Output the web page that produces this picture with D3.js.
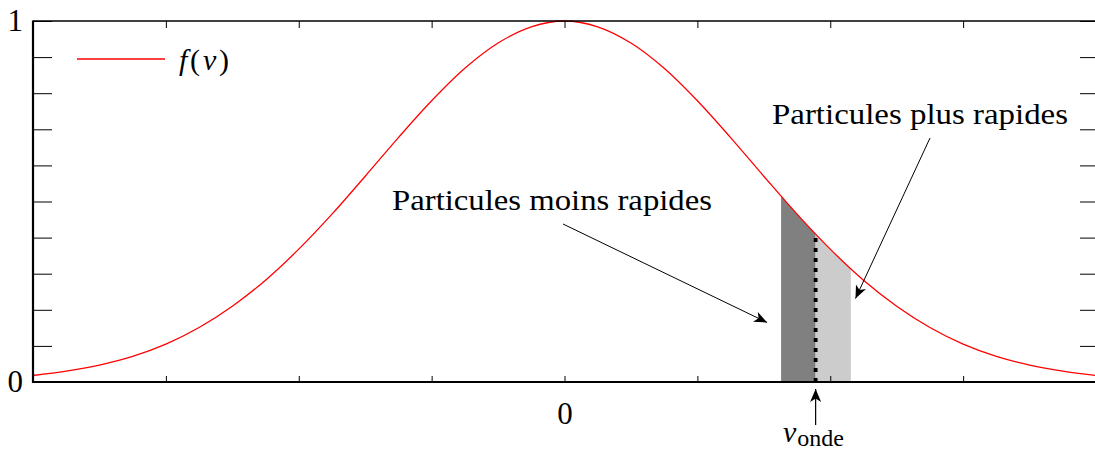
<!DOCTYPE html>
<html>
<head>
<meta charset="utf-8">
<script src="https://cdn.jsdelivr.net/npm/d3@7"></script>
<style>
  body { margin: 0; background: #fff; }
  svg { display: block; font-family: 'Liberation Serif', 'DejaVu Serif', serif; }
</style>
</head>
<body>
<svg id="chart" width="1095" height="450"></svg>
<script>
// f(v), every 0.25
const vValues = [-4, -3.75, -3.5, -3.25, -3, -2.75, -2.5, -2.25, -2, -1.75, -1.5, -1.25, -1, -0.75, -0.5, -0.25,
  0, 0.25, 0.5, 0.75, 1, 1.25, 1.5, 1.75, 2, 2.25, 2.5, 2.75, 3, 3.25, 3.5, 3.75, 4];
const fValues = [0.018, 0.030, 0.047, 0.071, 0.105, 0.151, 0.210, 0.282, 0.368, 0.465, 0.570, 0.677, 0.779, 0.869, 0.939, 0.984,
  1, 0.984, 0.939, 0.869, 0.779, 0.677, 0.570, 0.465, 0.368, 0.282, 0.210, 0.151, 0.105, 0.071, 0.047, 0.030, 0.018];

const xTicks = [-3, -2, -1, 0, 1, 2, 3];
const xTickLabels = ['', '', '', '0', '', '', ''];
const yTicks = [0, 0.1, 0.2, 0.3, 0.4, 0.5, 0.6, 0.7, 0.8, 0.9, 1];
const yTickLabels = ['0', '', '', '', '', '', '', '', '', '', '1'];

// shaded bands and wave speed
const slowBand = [1.63, 1.89];
const fastBand = [1.89, 2.155];
const vOnde = 1.89;

const data = vValues.map((v, i) => ({ v: v, f: fValues[i] }));

const margin = { top: 21, right: -1, bottom: 68, left: 33 };
const W = 1095, H = 450;

const svg = d3.select('#chart');

const x = d3.scaleLinear().domain([-4, 4]).range([margin.left, W - margin.right]);
const y = d3.scaleLinear().domain([0, 1]).range([H - margin.bottom, margin.top]);

// arrow head (latex style)
const defs = svg.append('defs');
defs.append('marker')
  .attr('id', 'arrow')
  .attr('viewBox', '-14 -7 16 14')
  .attr('refX', 0).attr('refY', 0)
  .attr('markerWidth', 16).attr('markerHeight', 14)
  .attr('markerUnits', 'userSpaceOnUse')
  .attr('orient', 'auto')
  .append('path')
  .attr('d', 'M0,0 L-13,-5.5 L-9.5,0 L-13,5.5 Z')
  .attr('fill', '#000');

const area = d3.area()
  .x((d) => x(d.v))
  .y0(y(0))
  .y1((d) => y(d.f))
  .curve(d3.curveCatmullRom);

const line = d3.line()
  .x((d) => x(d.v))
  .y((d) => y(d.f))
  .curve(d3.curveCatmullRom);

// clip each band to the area under the curve
defs.append('clipPath').attr('id', 'underCurve')
  .append('path').attr('d', area(data));

const bands = svg.append('g').attr('clip-path', 'url(#underCurve)');
bands.append('rect')
  .attr('x', x(slowBand[0]))
  .attr('y', y(1))
  .attr('width', x(slowBand[1]) - x(slowBand[0]))
  .attr('height', y(0) - y(1))
  .attr('fill', '#808080');
bands.append('rect')
  .attr('x', x(fastBand[0]))
  .attr('y', y(1))
  .attr('width', x(fastBand[1]) - x(fastBand[0]))
  .attr('height', y(0) - y(1))
  .attr('fill', '#cccccc');
bands.append('line')
  .attr('x1', x(vOnde)).attr('x2', x(vOnde))
  .attr('y1', y(0)).attr('y2', y(1))
  .attr('stroke', '#000')
  .attr('stroke-width', 3.8)
  .attr('stroke-dasharray', '4,6');

// curve
svg.append('path')
  .attr('d', line(data))
  .attr('fill', 'none')
  .attr('stroke', '#ff0000')
  .attr('stroke-width', 1.3);

// axes
const styleAxis = (g) => {
  g.select('.domain').remove();
  g.selectAll('.tick line').attr('stroke', '#000').attr('stroke-width', 1);
  g.selectAll('.tick text').attr('fill', '#000').style('font-size', '31px')
    .style('font-family', "'Liberation Serif', 'DejaVu Serif', serif");
};

svg.append('g')
  .attr('transform', `translate(0, ${y(0)})`)
  .call(d3.axisBottom(x).tickValues(xTicks).tickSize(-6).tickPadding(20)
    .tickFormat((d, i) => xTickLabels[i]))
  .call(styleAxis);

svg.append('g')
  .attr('transform', `translate(0, ${y(1)})`)
  .call(d3.axisTop(x).tickValues(xTicks).tickSize(-7).tickFormat(''))
  .call(styleAxis);

svg.append('g')
  .attr('transform', `translate(${x(-4)}, 0)`)
  .call(d3.axisLeft(y).tickValues(yTicks).tickSize(-19).tickPadding(10)
    .tickFormat((d, i) => yTickLabels[i]))
  .call(styleAxis);

svg.append('g')
  .attr('transform', `translate(${x(4)}, 0)`)
  .call(d3.axisRight(y).tickValues(yTicks).tickSize(-16).tickFormat(''))
  .call(styleAxis);

// frame
svg.append('line').attr('x1', x(-4)).attr('x2', x(4)).attr('y1', y(1)).attr('y2', y(1))
  .attr('stroke', '#000').attr('stroke-width', 1.3);
svg.append('line').attr('x1', x(-4)).attr('x2', x(4)).attr('y1', y(0)).attr('y2', y(0))
  .attr('stroke', '#000').attr('stroke-width', 1.8);
svg.append('line').attr('x1', x(-4)).attr('x2', x(-4)).attr('y1', y(1) - 0.6).attr('y2', y(0) + 0.9)
  .attr('stroke', '#000').attr('stroke-width', 2.2);

// legend
svg.append('line')
  .attr('x1', 77).attr('x2', 165).attr('y1', 59).attr('y2', 59)
  .attr('stroke', '#ff0000').attr('stroke-width', 1.3);
svg.append('text')
  .attr('x', 179).attr('y', 70)
  .attr('textLength', 50).attr('lengthAdjust', 'spacing')
  .style('font-size', '30px')
  .html('<tspan font-style="italic">f</tspan>(<tspan font-style="italic">v</tspan>)');

// annotations
svg.append('text')
  .attr('x', 392).attr('y', 210)
  .attr('textLength', 320).attr('lengthAdjust', 'spacingAndGlyphs')
  .style('font-size', '29px')
  .text('Particules moins rapides');
svg.append('line')
  .attr('x1', 563).attr('y1', 224).attr('x2', x(1.525)).attr('y2', 322.5)
  .attr('stroke', '#000').attr('stroke-width', 1)
  .attr('marker-end', 'url(#arrow)');

svg.append('text')
  .attr('x', 772).attr('y', 124)
  .attr('textLength', 296).attr('lengthAdjust', 'spacingAndGlyphs')
  .style('font-size', '29px')
  .text('Particules plus rapides');
svg.append('line')
  .attr('x1', 930).attr('y1', 138).attr('x2', 855.5).attr('y2', 298.5)
  .attr('stroke', '#000').attr('stroke-width', 1)
  .attr('marker-end', 'url(#arrow)');

// v_onde marker below the axis
svg.append('line')
  .attr('x1', x(vOnde)).attr('x2', x(vOnde))
  .attr('y1', 425).attr('y2', 389)
  .attr('stroke', '#000').attr('stroke-width', 1.2)
  .attr('marker-end', 'url(#arrow)');
const vLabel = svg.append('text')
  .attr('x', 783).attr('y', 442);
vLabel.append('tspan').style('font-style', 'italic').style('font-size', '30px').text('v');
vLabel.append('tspan').attr('dy', 4).attr('dx', 1).style('font-size', '24px').text('onde');
</script>
</body>
</html>
